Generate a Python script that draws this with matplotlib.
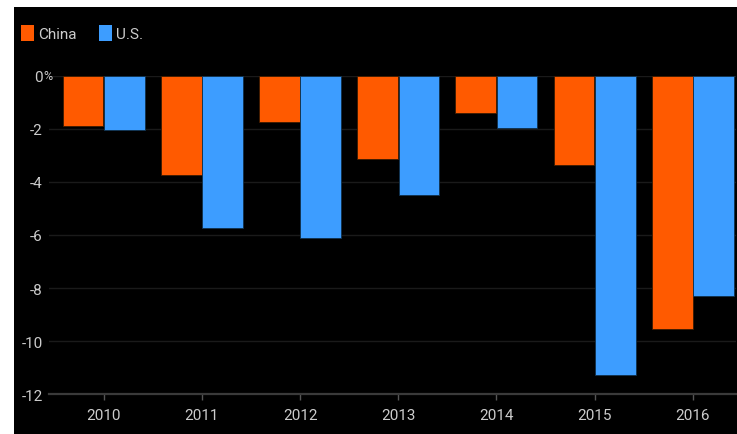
import numpy as np
import matplotlib
matplotlib.use("Agg")
import matplotlib.pyplot as plt
from matplotlib.patches import Rectangle, Patch
from matplotlib.transforms import blended_transform_factory

plt.rcParams['font.family'] = ['Roboto', 'DejaVu Sans']

years = ["2010", "2011", "2012", "2013", "2014", "2015", "2016"]
china = [-1.88, -3.74, -1.73, -3.14, -1.41, -3.35, -9.54]
us = [-2.03, -5.74, -6.11, -4.49, -1.97, -11.27, -8.31]
yticks = [0, -2, -4, -6, -8, -10, -12]
ytick_labels = ["0", "-2", "-4", "-6", "-8", "-10", "-12"]

ORANGE = "#ff5a00"
BLUE = "#3d9dff"
TEXT = "#cccccc"

fig = plt.figure(figsize=(7.37, 4.35), dpi=100, facecolor="white")
# black panel behind everything, leaving a white strip top and left
fig.patches.append(Rectangle((14 / 737, 0), 723 / 737, 427 / 435,
                             transform=fig.transFigure, facecolor="black",
                             edgecolor="none", zorder=-5))

ax = fig.add_axes([49 / 737, 39.7 / 435, 687 / 737, 318.6 / 435])
ax.set_zorder(2)
ax.set_facecolor("black")

x = np.arange(len(years))
w = 0.415
ax.bar(x - 0.21, china, width=w, color=ORANGE, edgecolor="#3a1a00", linewidth=0.6, zorder=3)
ax.bar(x + 0.21, us, width=w, color=BLUE, edgecolor="#10304a", linewidth=0.6, zorder=3)

ax.set_xlim(-0.557, 6.439)
ax.set_ylim(-12, 0)
ax.set_xticks(x)
ax.set_xticklabels(years)
ax.set_yticks(yticks)
ax.set_yticklabels(ytick_labels)

ax.grid(axis="y", color="#1a1a1a", linewidth=1.0, zorder=0)
ax.set_axisbelow(True)
for s in ["top", "right", "left"]:
    ax.spines[s].set_visible(False)
ax.spines["bottom"].set_color("#3a3a3a")
ax.spines["bottom"].set_linewidth(1.6)
ax.spines["bottom"].set_zorder(4)

ax.tick_params(axis="x", colors="#555555", length=4, width=1, pad=6,
               labelcolor=TEXT, labelsize=11)
ax.tick_params(axis="y", length=0, pad=4.5, labelcolor=TEXT, labelsize=11)

# the "%" hangs past the other labels on the 0 line
tr = blended_transform_factory(ax.transAxes, ax.transData)
ax.text(-6 / 687, 0, "%", transform=tr, ha="left", va="center",
        color=TEXT, fontsize=9, clip_on=False)

handles = [Patch(facecolor=ORANGE, edgecolor="none"), Patch(facecolor=BLUE, edgecolor="none")]
fig.legend(handles, ["China", "U.S."], loc="upper left",
           bbox_to_anchor=(21 / 737, 1 - 26 / 435), ncol=2, frameon=False,
           fontsize=11, labelcolor=TEXT, handlelength=0.85, handleheight=1.2,
           handletextpad=0.25, columnspacing=1.5, borderpad=0, borderaxespad=0)

fig.savefig("out.png", dpi=100, facecolor="white")
